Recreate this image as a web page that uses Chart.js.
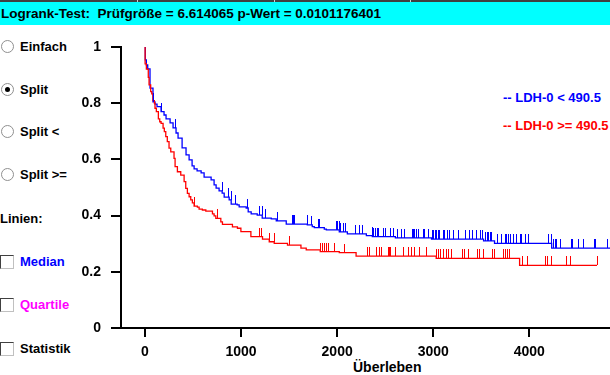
<!DOCTYPE html>
<html>
<head>
<meta charset="utf-8">
<script src="https://cdn.jsdelivr.net/npm/chart.js@4.4.0/dist/chart.umd.min.js"></script>
<style>
  body { margin: 0; width: 610px; height: 375px; overflow: hidden; background: #fff;
         font-family: 'Liberation Sans Narrow', 'Liberation Sans', Arial, sans-serif; font-weight: bold; font-size: 13px; }
  #topline { position: absolute; left: 0; top: 0; width: 610px; height: 2px; background: #404040; }
  .sep { position: absolute; top: 0; width: 1px; height: 2px; background: #d0d0d0; }
  #head { position: absolute; left: 0; top: 2px; width: 610px; height: 23px; line-height: 23px; background: #00ffff; white-space: pre; padding-left: 1px; font-size: 13.5px; }
  .row { position: absolute; left: 0; height: 16px; line-height: 16px; white-space: pre; }
  .row span.lbl { position: absolute; left: 20px; top: 0; }
  .radio { position: absolute; left: 1px; top: 1px; width: 11px; height: 11px; border-radius: 50%;
           border: 1px solid #909090; background: #fff; }
  .radio.on::after { content: ''; position: absolute; left: 3px; top: 3px; width: 5px; height: 5px; border-radius: 50%; background: #000; }
  .check { position: absolute; left: 0; top: 1px; width: 12px; height: 12px; background: #fff;
           border-top: 1px solid #404040; border-left: 1px solid #404040; border-right: 1px solid #c0c0c0; border-bottom: 1px solid #c0c0c0; }
  .leg { position: absolute; left: 503px; height: 16px; line-height: 16px; white-space: pre; }
  #xtitle { position: absolute; left: 353px; top: 359px; height: 16px; line-height: 16px; font-size: 14px; }
  canvas { position: absolute; left: 0; top: 0; }
</style>
</head>
<body>
<div id="topline"></div>
<div class="sep" style="left:137px"></div>
<div class="sep" style="left:274px"></div>
<div class="sep" style="left:410px"></div>
<div id="head">Logrank-Test:  Prüfgröße = 6.614065 p-Wert = 0.0101176401</div>

<div class="row" style="top:39px"><div class="radio"></div><span class="lbl">Einfach</span></div>
<div class="row" style="top:82px"><div class="radio on"></div><span class="lbl">Split</span></div>
<div class="row" style="top:124px"><div class="radio"></div><span class="lbl">Split &lt;</span></div>
<div class="row" style="top:167px"><div class="radio"></div><span class="lbl">Split &gt;=</span></div>
<div class="row" style="top:211px">Linien:</div>
<div class="row" style="top:254px"><div class="check"></div><span class="lbl" style="color:#0000ff">Median</span></div>
<div class="row" style="top:297px"><div class="check"></div><span class="lbl" style="color:#ff00ff">Quartile</span></div>
<div class="row" style="top:341px"><div class="check"></div><span class="lbl">Statistik</span></div>

<div class="leg" style="top:90px;color:#0000ff">-- LDH-0 &lt; 490.5</div>
<div class="leg" style="top:118px;color:#ff0000">-- LDH-0 &gt;= 490.5</div>
<div id="xtitle">Überleben</div>

<canvas id="km" width="610" height="375"></canvas>

<script>
// Kaplan-Meier Stufen: Zeitpunkt des Abfalls und Überlebensrate danach
const blueTimes = [3,14,28,52,83,104,125,167,198,219,261,292,323,344,386,427,459,490,511,542,584,615,688,719,740,771,803,824,876,897,959,980,1053,1074,1105,1168,1220,1314,1366,1470,1689,1741,1762,1866,1887,2022,2106,2304,2366,2606,2982,3524,3638,4233];
const blueSurv = [0.954,0.936,0.922,0.854,0.805,0.797,0.788,0.770,0.758,0.744,0.730,0.712,0.694,0.676,0.641,0.616,0.598,0.577,0.566,0.559,0.552,0.537,0.527,0.509,0.498,0.488,0.480,0.466,0.456,0.441,0.438,0.431,0.427,0.413,0.406,0.402,0.391,0.388,0.381,0.370,0.367,0.361,0.357,0.352,0.349,0.342,0.335,0.329,0.325,0.321,0.316,0.310,0.301,0.284];
const blueEnd = 4840;
const blueCensor = [83,167,308,798,865,891,933,1066,1183,1215,1244,1369,1527,1538,1548,1684,1723,1798,1809,1988,2002,2015,2028,2057,2080,2189,2226,2262,2363,2377,2393,2411,2429,2474,2502,2549,2582,2622,2666,2700,2780,2794,2804,2822,2841,2891,2909,2945,2989,3002,3018,3034,3049,3065,3099,3117,3141,3162,3204,3256,3326,3372,3404,3448,3492,3508,3541,3555,3569,3586,3604,3659,3706,3743,3758,3774,3795,3826,3862,3899,3917,3951,3988,4194,4222,4248,4264,4282,4321,4431,4448,4509,4559,4670,4681,4806];

const redTimes = [1,14,34,42,59,70,83,97,104,118,139,153,167,188,201,216,232,250,268,302,313,337,372,407,424,441,459,476,493,511,545,563,597,633,702,719,737,789,806,910,962,998,1102,1223,1293,1345,1483,1623,1678,1824,2022,2197,3031,3899];
const redSurv = [0.940,0.921,0.892,0.865,0.841,0.833,0.809,0.800,0.782,0.770,0.744,0.734,0.728,0.711,0.699,0.681,0.663,0.640,0.627,0.604,0.574,0.556,0.544,0.521,0.497,0.479,0.467,0.456,0.445,0.434,0.430,0.423,0.420,0.416,0.406,0.399,0.390,0.378,0.369,0.360,0.355,0.343,0.325,0.316,0.307,0.301,0.295,0.284,0.278,0.272,0.268,0.256,0.248,0.223];
const redEnd = 4705;
const redCensor = [511,754,1189,1212,1293,1338,1501,1824,1845,1866,1887,1901,1970,2075,2309,2335,2405,2432,2455,2528,2544,2554,2606,2690,2735,2768,2804,2856,2924,3034,3049,3075,3099,3128,3154,3185,3302,3318,3362,3456,3477,3516,3614,3633,3725,3750,3771,3787,3925,3975,4160,4180,4222,4379,4420,4705];

const xTicks = [0, 1000, 2000, 3000, 4000];
const yTicks = [0, 0.2, 0.4, 0.6, 0.8, 1];

function stepPoints(times, surv, end) {
  const pts = [{ x: 0, y: 1 }];
  times.forEach((t, i) => pts.push({ x: t, y: surv[i] }));
  pts.push({ x: end, y: surv[surv.length - 1] });
  return pts;
}

function survivalAt(times, surv, t) {
  let s = 1;
  for (let i = 0; i < times.length; i++) {
    if (times[i] <= t) s = surv[i];
  }
  return s;
}

const groups = [
  { color: '#ff0000', times: redTimes, surv: redSurv, censor: redCensor },
  { color: '#0000ff', times: blueTimes, surv: blueSurv, censor: blueCensor },
];

// kleine senkrechte Striche fuer zensierte Faelle
const censorTicks = {
  id: 'censorTicks',
  afterDatasetsDraw(chart) {
    const { ctx, scales: { x, y } } = chart;
    ctx.save();
    ctx.lineWidth = 1;
    groups.forEach(g => {
      ctx.strokeStyle = g.color;
      ctx.beginPath();
      g.censor.forEach(t => {
        const s = survivalAt(g.times, g.surv, t);
        const px = Math.round(x.getPixelForValue(t)) + 0.5;
        const py = Math.round(y.getPixelForValue(s));
        ctx.moveTo(px, py);
        ctx.lineTo(px, py - 9);
      });
      ctx.stroke();
    });
    ctx.restore();
  }
};

Chart.defaults.font.family = "'Liberation Sans Narrow', 'Liberation Sans', Arial, sans-serif";
Chart.defaults.font.weight = 'bold';
Chart.defaults.font.size = 14;
Chart.defaults.color = '#000';

new Chart(document.getElementById('km'), {
  type: 'line',
  data: {
    datasets: [
      {
        label: 'LDH-0 >= 490.5',
        data: stepPoints(redTimes, redSurv, redEnd),
        borderColor: '#ff0000',
        borderWidth: 1.3,
        stepped: 'before',
        pointRadius: 0,
        fill: false,
      },
      {
        label: 'LDH-0 < 490.5',
        data: stepPoints(blueTimes, blueSurv, blueEnd),
        borderColor: '#0000ff',
        borderWidth: 1.3,
        stepped: 'before',
        pointRadius: 0,
        fill: false,
      },
    ],
  },
  options: {
    responsive: false,
    animation: false,
    layout: { padding: { left: 0, top: 47, right: 0, bottom: 0 } },
    plugins: { legend: { display: false }, tooltip: { enabled: false } },
    scales: {
      x: {
        type: 'linear',
        min: -250,
        max: 4840,
        afterBuildTicks: (scale) => { scale.ticks = xTicks.map(v => ({ value: v })); },
        afterFit: (scale) => { scale.height = 47; },
        grid: { drawOnChartArea: false, drawTicks: true, tickLength: 9, color: '#000', lineWidth: 2 },
        border: { display: true, color: '#000', width: 2 },
        ticks: { padding: 7, maxRotation: 0, callback: (v) => String(v) },
      },
      y: {
        type: 'linear',
        min: 0,
        max: 1,
        afterBuildTicks: (scale) => { scale.ticks = yTicks.map(v => ({ value: v })); },
        afterFit: (scale) => { scale.width = 121; },
        grid: { drawOnChartArea: false, drawTicks: true, tickLength: 10, color: '#000', lineWidth: 2 },
        border: { display: true, color: '#000', width: 2 },
        ticks: { padding: 10, callback: (v) => String(+v.toFixed(1)) },
      },
    },
  },
  plugins: [censorTicks],
});
</script>
</body>
</html>
